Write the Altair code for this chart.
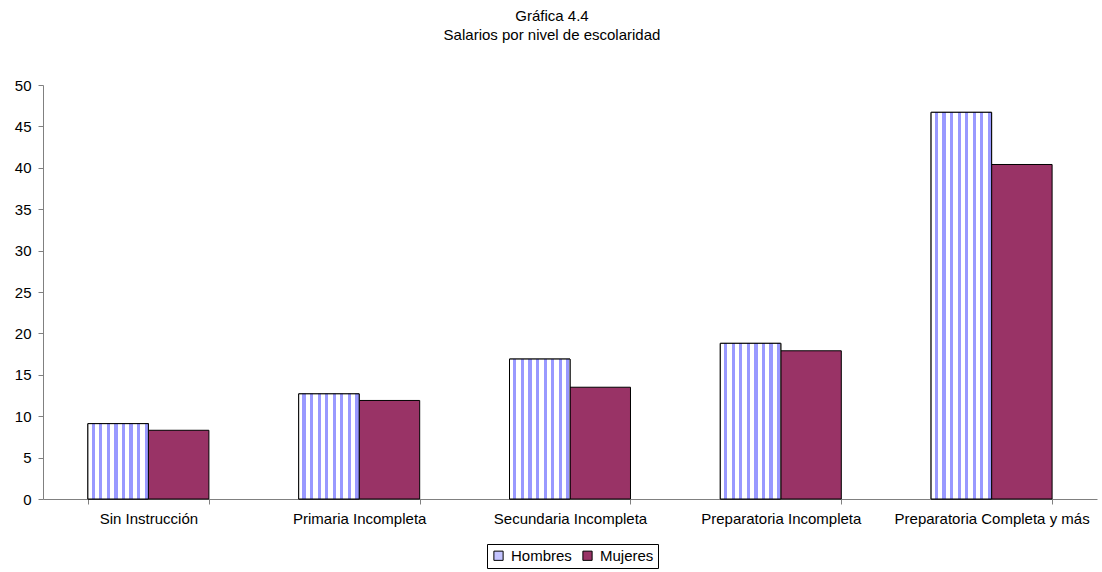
import altair as alt
import pandas as pd

# Salario por nivel de escolaridad, por sexo
niveles = [
    "Sin Instrucción",
    "Primaria Incompleta",
    "Secundaria Incompleta",
    "Preparatoria Incompleta",
    "Preparatoria Completa y más",
]
series = ["Hombres", "Mujeres"]
hombres = [9.1, 12.7, 16.9, 18.8, 46.7]
mujeres = [8.3, 11.9, 13.5, 17.9, 40.4]

df = pd.DataFrame(
    {
        "nivel": niveles * 2,
        "serie": ["Hombres"] * len(niveles) + ["Mujeres"] * len(niveles),
        "salario": hombres + mujeres,
    }
)

FONT = "Liberation Sans"
FS = 15

# vertical stripes for the Hombres bars, built as a hard-stop linear gradient
stops = []
n_stripes = 8
for i in range(n_stripes):
    a = i / n_stripes
    m = (i + 0.5) / n_stripes
    b = (i + 1) / n_stripes
    stops += [
        {"offset": a, "color": "#ffffff"},
        {"offset": m, "color": "#ffffff"},
        {"offset": m, "color": "#9999ff"},
        {"offset": b - 0.08 / n_stripes, "color": "#9999ff"},
        {"offset": b - 0.08 / n_stripes, "color": "#ffffff"},
    ]
stripes_fill = {"gradient": "linear", "x1": 0, "y1": 0, "x2": 1, "y2": 0, "stops": stops}

base = alt.Chart(df).encode(
    x=alt.X(
        "nivel:N",
        sort=niveles,
        title=None,
        scale=alt.Scale(paddingInner=0.426, paddingOuter=0.213),
        axis=alt.Axis(
            labelAngle=0,
            tickBand="extent",
            tickSize=5,
            labelPadding=7,
            labelFontSize=FS,
            labelLimit=400,
        ),
    ),
    xOffset=alt.XOffset(
        "serie:N",
        sort=series,
        scale=alt.Scale(domain=series, paddingInner=0, paddingOuter=0),
    ),
    y=alt.Y(
        "salario:Q",
        title=None,
        scale=alt.Scale(domain=[0, 50], nice=False),
        axis=alt.Axis(
            values=list(range(0, 51, 5)),
            tickSize=5,
            labelPadding=7,
            labelFontSize=FS,
            grid=False,
        ),
    ),
)

bars = base.mark_bar(stroke="black", strokeWidth=1).encode(
    color=alt.Color(
        "serie:N",
        sort=series,
        scale=alt.Scale(domain=series, range=["#c4c4ff", "#993366"]),
        legend=alt.Legend(
            title=None,
            orient="none",
            direction="horizontal",
            legendX=444,
            legendY=459,
            symbolType="square",
            symbolSize=85,
            symbolStrokeColor="black",
            symbolStrokeWidth=1,
            labelFontSize=FS,
            labelFont=FONT,
            columnPadding=8,
            labelOffset=5,
            padding=4,
            strokeColor="black",
            fillColor="white",
        ),
    )
)

stripes = base.transform_filter("datum.serie == 'Hombres'").mark_bar(
    stroke="black", strokeWidth=1, fill=stripes_fill
)

chart = (
    alt.layer(bars, stripes)
    .properties(
        width=1054,
        height=414,
        autosize=alt.AutoSizeParams(type="none"),
        padding={"left": 43, "top": 85, "right": 5, "bottom": 73},
        title=alt.TitleParams(
            text=["Gráfica 4.4", "Salarios por nivel de escolaridad"],
            fontSize=FS,
            fontWeight="normal",
            font=FONT,
            lineHeight=19,
            anchor="middle",
            dx=-18,
            offset=35,
            color="black",
        ),
    )
    .configure_view(stroke=None)
    .configure_axis(
        labelFont=FONT,
        labelColor="black",
        domainColor="#808080",
        tickColor="#808080",
        domainWidth=1,
    )
)

chart.save("out.html", embed_options={"renderer": "svg", "actions": False})
